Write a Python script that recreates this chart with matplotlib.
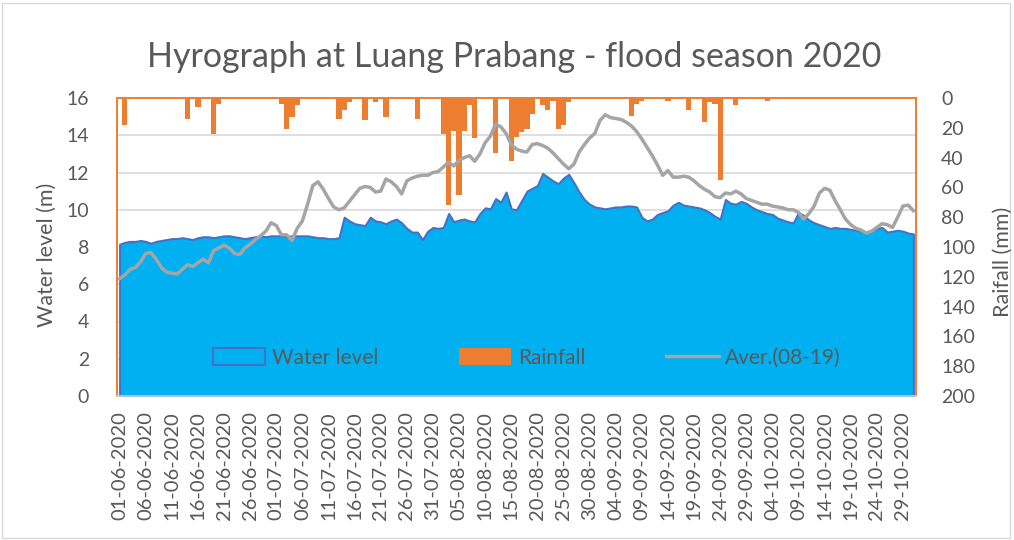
import numpy as np
import pandas as pd
import matplotlib.pyplot as plt
from matplotlib.ticker import MultipleLocator
from matplotlib.patches import Rectangle

# daily data, 01-06-2020 .. 31-10-2020
dates = pd.date_range('2020-06-01', '2020-10-31', freq='D')

water_level = [
    8.15, 8.25, 8.3, 8.3, 8.35, 8.3, 8.2, 8.3, 8.35, 8.4,
    8.45, 8.45, 8.5, 8.45, 8.4, 8.5, 8.55, 8.55, 8.5, 8.55,
    8.6, 8.6, 8.55, 8.5, 8.45, 8.5, 8.55, 8.6, 8.55, 8.6,
    8.6, 8.6, 8.55, 8.6, 8.6, 8.6, 8.6, 8.55, 8.5, 8.5,
    8.45, 8.45, 8.5, 9.6, 9.4, 9.25, 9.2, 9.15, 9.6, 9.4,
    9.35, 9.25, 9.4, 9.5, 9.3, 9.0, 8.8, 8.8, 8.4, 8.85,
    9.05, 9.0, 9.05, 9.8, 9.35, 9.45, 9.5, 9.4, 9.35, 9.8,
    10.1, 10.05, 10.6, 10.4, 10.95, 10.05, 10.0, 10.5, 11.0, 11.15,
    11.3, 11.95, 11.75, 11.55, 11.4, 11.7, 11.9, 11.45, 10.95, 10.55,
    10.3, 10.15, 10.1, 10.05, 10.1, 10.15, 10.15, 10.2, 10.2, 10.15,
    9.6, 9.4, 9.5, 9.75, 9.85, 9.95, 10.25, 10.4, 10.25, 10.2,
    10.15, 10.1, 10.0, 9.85, 9.65, 9.5, 10.55, 10.35, 10.3, 10.45,
    10.35, 10.15, 10.0, 9.9, 9.8, 9.75, 9.55, 9.45, 9.35, 9.3,
    9.85, 9.7, 9.45, 9.3, 9.2, 9.1, 9.0, 9.05, 9.0, 9.0,
    8.95, 8.9, 8.85, 8.75, 8.85, 9.0, 9.05, 8.8, 8.85, 8.9,
    8.85, 8.75, 8.7,
]

average = [
    6.3, 6.5, 6.8, 6.9, 7.2, 7.65, 7.7, 7.35, 6.9, 6.65,
    6.6, 6.55, 6.8, 7.05, 6.95, 7.15, 7.35, 7.15, 7.8, 7.95,
    8.1, 7.95, 7.65, 7.6, 7.95, 8.15, 8.4, 8.6, 8.85, 9.3,
    9.15, 8.65, 8.65, 8.35, 9.0, 9.4, 10.3, 11.3, 11.5, 11.1,
    10.6, 10.15, 10.0, 10.1, 10.45, 10.8, 11.15, 11.25, 11.2, 10.95,
    11.0, 11.65, 11.5, 11.25, 10.85, 11.55, 11.7, 11.8, 11.85, 11.85,
    12.0, 12.05, 12.3, 12.55, 12.35, 12.65, 12.8, 12.9, 12.6, 13.0,
    13.6, 13.95, 14.6, 14.45, 14.1, 13.5, 13.25, 13.15, 13.1, 13.5,
    13.55, 13.45, 13.3, 13.05, 12.75, 12.45, 12.2, 12.45, 13.1, 13.5,
    13.85, 14.1, 14.8, 15.1, 14.95, 14.9, 14.85, 14.7, 14.5, 14.2,
    13.8, 13.35, 12.9, 12.4, 11.85, 12.1, 11.75, 11.75, 11.8, 11.75,
    11.55, 11.3, 11.1, 10.95, 10.7, 10.65, 10.9, 10.85, 11.0, 10.85,
    10.6, 10.5, 10.4, 10.3, 10.3, 10.2, 10.15, 10.1, 10.0, 10.0,
    9.85, 9.5, 9.8, 10.2, 10.9, 11.15, 11.05, 10.5, 10.0, 9.5,
    9.2, 9.0, 8.9, 8.75, 8.85, 9.05, 9.25, 9.2, 9.05, 9.6,
    10.2, 10.25, 9.95,
]

# rainfall (mm): day index since 01-06 and amount, other days are dry
rain_days = [1, 13, 15, 18, 19, 31, 32, 33, 34, 42, 43, 44, 47, 49, 51, 57,
             62, 63, 64, 65, 66, 67, 68, 72, 75, 76, 77, 78, 79, 81, 82, 83,
             84, 85, 86, 98, 99, 100, 105, 109, 112, 113, 114, 115, 118, 123, 124]
rain_mm = [18, 14, 6, 24, 4, 4, 21, 13, 5, 14, 8, 3, 15, 3, 13, 14,
           24, 72, 22, 65, 22, 5, 27, 37, 42, 26, 23, 21, 11, 5, 8, 2,
           21, 18, 3, 12, 4, 2, 2, 8, 16, 3, 4, 55, 5, 1, 2]

x = np.arange(len(dates))
rain = np.zeros(len(dates))
rain[rain_days] = rain_mm

tick_idx = x[::5]
tick_labels = dates[::5].strftime('%d-%m-%Y')

plt.rcParams['font.family'] = 'Lato'
txt = '#595959'
orange = '#ED7D31'

fig = plt.figure(figsize=(10.14, 5.4), dpi=100)
fig.patch.set_facecolor('white')
ax = fig.add_axes([117 / 1014, 1 - 396 / 540, 799 / 1014, 298 / 540])
ax2 = ax.twinx()
ax.set_zorder(2)
ax.patch.set_visible(False)

# rainfall on inverted secondary axis, grid drawn here (every 25 mm = 2 m)
ax2.bar(x, rain, width=1.0, color=orange, label='Rainfall')
ax2.set_ylim(200, 0)
ax2.yaxis.set_major_locator(MultipleLocator(20))
ax2.yaxis.set_minor_locator(MultipleLocator(25))
ax2.set_axisbelow(True)
ax2.grid(which='minor', axis='y', color='#D9D9D9', linewidth=1.2)
ax2.tick_params(axis='y', which='both', length=0, labelsize=14, colors=txt, pad=18)

# water level area + average line
wl = ax.fill_between(x, 0, water_level, facecolor='#00B0F0', edgecolor='#4472C4',
                     linewidth=1.5, label='Water level')
ln, = ax.plot(x, average, color='#A5A5A5', linewidth=2.5, label='Aver.(08-19)')
ax.set_xlim(-0.5, len(x) - 0.5)
ax.set_ylim(0, 16)
ax.yaxis.set_major_locator(MultipleLocator(2))
ax.set_xticks(tick_idx)
ax.set_xticklabels(tick_labels, rotation=90)
ax.tick_params(axis='y', length=0, labelsize=14, colors=txt, pad=20)
ax.tick_params(axis='x', length=0, labelsize=14.5, colors=txt, pad=11)

for a in (ax, ax2):
    for side in ('left', 'right', 'top'):
        a.spines[side].set_color(orange)
        a.spines[side].set_linewidth(1.2)
    a.spines['bottom'].set_color('#C9CFDE')
    a.spines['bottom'].set_linewidth(1.2)

bars = ax2.patches[0]
ax.legend([wl, bars, ln], ['Water level', 'Rainfall', 'Aver.(08-19)'],
          ncol=3, loc='center', bbox_to_anchor=(0.513, 0.128), frameon=False,
          fontsize=15, labelcolor=txt, handlelength=2.5, handleheight=0.9,
          handletextpad=0.3, columnspacing=3.9)

fig.text(514 / 1014, 1 - 57 / 540, 'Hyrograph at Luang Prabang - flood season 2020',
         ha='center', va='center', fontsize=24.5, color=txt)
fig.text(47 / 1014, 1 - 255 / 540, 'Water level (m)', rotation=90,
         ha='center', va='center', fontsize=15.5, color=txt)
fig.text(1003 / 1014, 1 - 262 / 540, 'Raifall (mm)', rotation=90,
         ha='center', va='center', fontsize=15.5, color=txt)

fig.add_artist(Rectangle((0.002, 0.003), 0.994, 0.992, transform=fig.transFigure,
                         fill=False, edgecolor='#D9D9D9', linewidth=1))

fig.savefig('out.png', dpi=100, facecolor='white')
